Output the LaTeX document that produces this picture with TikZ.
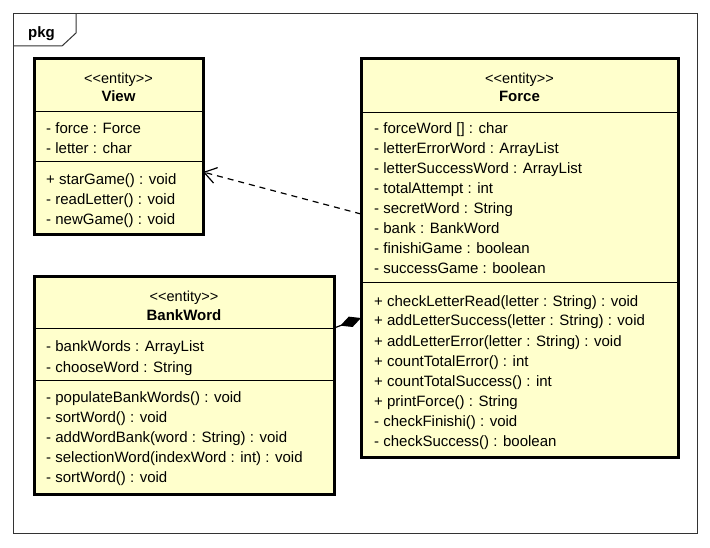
\documentclass[tikz,border=0pt]{standalone}
\usepackage{fontspec}
\setmainfont{Liberation Sans}[Ligatures=TeXOff]
\usetikzlibrary{arrows.meta}
\definecolor{classfill}{HTML}{FFFFCC}
\definecolor{framegray}{HTML}{333333}
\begin{document}
\begin{tikzpicture}[x=1pt,y=-1pt,
  classbox/.style={draw=black, line width=3pt, fill=classfill, rectangle,
    inner sep=0pt, outer sep=0pt, anchor=north west},
  member/.style={anchor=base west, inner sep=0pt, font=\fontsize{15}{18}\selectfont},
  stereo/.style={anchor=base, inner sep=0pt, font=\fontsize{14.5}{18}\selectfont},
  classname/.style={anchor=base, inner sep=0pt, font=\fontsize{15}{18}\selectfont\bfseries},
  divider/.style={line width=1pt},
  pkgframe/.style={draw=framegray, line width=1pt},
  depline/.style={line width=1.2pt, dash pattern=on 6pt off 5pt,
    -{Straight Barb[length=12pt, width=16pt, line width=1.2pt]}},
  compline/.style={line width=1.2pt, -{Diamond[length=22pt, width=11pt]}}
]
% canvas
\fill[white] (0,0) rectangle (710,548);
\useasboundingbox (0,0) rectangle (710,548);

% package frame with its name tab
\node[pkgframe, rectangle, inner sep=0pt, outer sep=0pt, anchor=north west,
  minimum width=684pt, minimum height=519pt] (pkg) at (13,14) {};
\draw[pkgframe] (13,46) -- (62,46) -- (76,33) -- (76,14);
\node[classname, anchor=base] (pkgname) at (41.5,37.5) {pkg};

% ---- View ----
\node[classbox, minimum width=169pt, minimum height=176pt] (view) at (34,59) {};
\draw[divider] (view.west |- 0,112) -- (view.east |- 0,112);
\draw[divider] (view.west |- 0,162) -- (view.east |- 0,162);
\node[stereo] (viewst) at (118.5,83.5) {<<entity>>};
\node[classname] (viewname) at (118.5,102) {View};
\node[member] (va1) at (46,134) {- force : Force};
\node[member] (va2) at (46,154) {- letter : char};
\node[member] (vm1) at (46,185) {+ starGame() : void};
\node[member] (vm2) at (46,205) {- readLetter() : void};
\node[member] (vm3) at (46,225) {- newGame() : void};

% ---- Force ----
\node[classbox, minimum width=317pt, minimum height=398.5pt] (force) at (361,59) {};
\draw[divider] (force.west |- 0,112.5) -- (force.east |- 0,112.5);
\draw[divider] (force.west |- 0,283) -- (force.east |- 0,283);
\node[stereo] (forcest) at (519.5,83.5) {<<entity>>};
\node[classname] (forcename) at (519.5,102) {Force};
\node[member] (fa1) at (374,134) {- forceWord [] : char};
\node[member] (fa2) at (374,154) {- letterErrorWord : ArrayList};
\node[member] (fa3) at (374,174) {- letterSuccessWord : ArrayList};
\node[member] (fa4) at (374,194) {- totalAttempt : int};
\node[member] (fa5) at (374,214) {- secretWord : String};
\node[member] (fa6) at (374,234) {- bank : BankWord};
\node[member] (fa7) at (374,254) {- finishiGame : boolean};
\node[member] (fa8) at (374,274) {- successGame : boolean};
\node[member] (fm1) at (374,306) {+ checkLetterRead(letter : String) : void};
\node[member] (fm2) at (374,326) {+ addLetterSuccess(letter : String) : void};
\node[member] (fm3) at (374,346) {+ addLetterError(letter : String) : void};
\node[member] (fm4) at (374,366) {+ countTotalError() : int};
\node[member] (fm5) at (374,386) {+ countTotalSuccess() : int};
\node[member] (fm6) at (374,406) {+ printForce() : String};
\node[member] (fm7) at (374,426) {- checkFinishi() : void};
\node[member] (fm8) at (374,446) {- checkSuccess() : boolean};

% ---- BankWord ----
\node[classbox, minimum width=300pt, minimum height=217pt] (bank) at (34,277) {};
\draw[divider] (bank.west |- 0,328) -- (bank.east |- 0,328);
\draw[divider] (bank.west |- 0,380) -- (bank.east |- 0,380);
\node[stereo] (bankst) at (184,301.5) {<<entity>>};
\node[classname] (bankname) at (184,320) {BankWord};
\node[member] (ba1) at (46,352) {- bankWords : ArrayList};
\node[member] (ba2) at (46,372) {- chooseWord : String};
\node[member] (bm1) at (46,402) {- populateBankWords() : void};
\node[member] (bm2) at (46,422) {- sortWord() : void};
\node[member] (bm3) at (46,442) {- addWordBank(word : String) : void};
\node[member] (bm4) at (46,462) {- selectionWord(indexWord : int) : void};
\node[member] (bm5) at (46,482) {- sortWord() : void};

% ---- relations ----
\draw[depline] ([yshift=44.25pt]force.west) -- ([yshift=-25pt]view.east);
\draw[compline] ([yshift=57.5pt]bank.east) -- ([yshift=-59.75pt]force.west);
\end{tikzpicture}
\end{document}
